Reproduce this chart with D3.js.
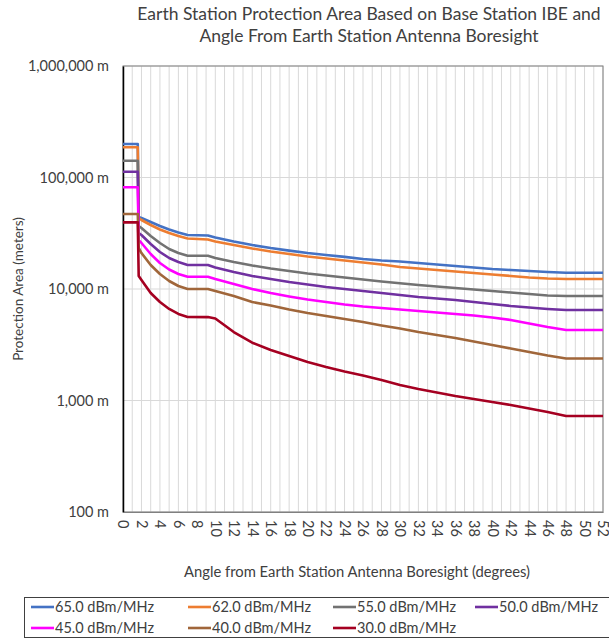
<!DOCTYPE html>
<html>
<head>
<meta charset="utf-8">
<script src="https://cdn.jsdelivr.net/npm/d3@7"></script>
<style>
  body { margin: 0; background: #fff; }
  text { font-family: Lato, "Open Sans", sans-serif; fill: #404040; }
</style>
</head>
<body>
<div id="chart"></div>
<script>
// angle from boresight (degrees)
const angles = [0, 1.6, 1.7, 2, 3, 4, 5, 6, 7, 9.2, 10, 12, 14, 16, 18, 20, 22, 24, 26, 28,
  30, 32, 34, 36, 38, 40, 42, 44, 46, 48, 50, 52];

// protection distance (meters) per IBE level
const ibe65 = [200000, 200000, 44250, 43350, 39900, 36700, 34200, 32150, 30500, 30200, 29000, 26700,
  24800, 23300, 22100, 21000, 20200, 19400, 18600, 18000, 17650, 17100, 16600, 16100, 15600, 15100,
  14800, 14500, 14200, 14000, 14000, 14000];
const ibe62 = [186600, 186600, 43350, 41590, 37500, 34200, 31790, 29870, 28380, 27800, 26670, 24820,
  23080, 21690, 20600, 19550, 18790, 18030, 17290, 16600, 15750, 15280, 14790, 14350, 13900, 13490,
  13090, 12680, 12420, 12300, 12300, 12300];
const ibe55 = [141500, 141500, 36730, 35240, 29870, 25870, 22850, 21030, 19890, 19890, 18970, 17460,
  16250, 15280, 14500, 13770, 13210, 12680, 12170, 11670, 11250, 10860, 10520, 10210, 9900, 9590,
  9300, 9020, 8740, 8650, 8650, 8650];
const ibe50 = [112700, 112700, 31790, 30500, 25340, 21470, 18970, 17460, 16420, 16420, 15590, 14200,
  13090, 12300, 11550, 10970, 10420, 10000, 9590, 9200, 8830, 8480, 8220, 7970, 7640, 7330,
  7040, 6820, 6620, 6480, 6480, 6480];
const ibe45 = [81700, 81700, 27500, 25870, 20600, 17100, 14960, 13640, 12890, 12890, 12300, 11090,
  10000, 9200, 8570, 8050, 7640, 7260, 6970, 6760, 6550, 6350, 6150, 5970, 5790, 5550,
  5270, 4910, 4560, 4290, 4290, 4290];
const ibe40 = [47100, 47100, 23330, 21030, 16420, 13640, 11800, 10640, 10000, 10000, 9590, 8650,
  7640, 7110, 6550, 6090, 5730, 5380, 5060, 4710, 4420, 4110, 3870, 3640, 3380, 3150,
  2930, 2720, 2530, 2380, 2380, 2380];
const ibe30 = [39600, 39600, 13100, 12050, 9200, 7640, 6620, 5970, 5610, 5600, 5440, 4110,
  3300, 2840, 2510, 2210, 1996, 1820, 1675, 1527, 1377, 1268, 1180, 1097, 1031, 970,
  912, 848, 789, 726, 726, 726];

const seriesNames = ["65.0 dBm/MHz", "62.0 dBm/MHz", "55.0 dBm/MHz", "50.0 dBm/MHz",
  "45.0 dBm/MHz", "40.0 dBm/MHz", "30.0 dBm/MHz"];
const seriesValues = [ibe65, ibe62, ibe55, ibe50, ibe45, ibe40, ibe30];
const colors = ["#4472c4", "#ed7d31", "#727272", "#7030a0", "#ff00ff", "#a0663a", "#a50021"];

const yTicks = [100, 1000, 10000, 100000, 1000000];
const xTicks = d3.range(0, 53, 2);

const width = 609, height = 640;
const margin = { top: 66, right: 6, bottom: 128, left: 123 };

const svg = d3.select("#chart").append("svg")
    .attr("width", width)
    .attr("height", height);

const x = d3.scaleLinear()
    .domain([0, 52])
    .range([margin.left, width - margin.right]);

const y = d3.scaleLog()
    .domain([100, 1000000])
    .range([height - margin.bottom, margin.top]);

// title
svg.append("text")
    .attr("x", 369).attr("y", 20)
    .attr("text-anchor", "middle")
    .style("font-size", "17.5px")
    .text("Earth Station Protection Area Based on Base Station IBE and");
svg.append("text")
    .attr("x", 369).attr("y", 42)
    .attr("text-anchor", "middle")
    .style("font-size", "17.5px")
    .text("Angle From Earth Station Antenna Boresight");

// gridlines
svg.append("g")
    .selectAll("line")
    .data(d3.range(0, 53))
    .join("line")
    .attr("x1", d => x(d)).attr("x2", d => x(d))
    .attr("y1", y(1000000)).attr("y2", y(100))
    .attr("stroke", "#d9d9d9")
    .attr("stroke-width", 1);

svg.append("g")
    .selectAll("line")
    .data(yTicks)
    .join("line")
    .attr("x1", x(0)).attr("x2", x(52))
    .attr("y1", d => y(d)).attr("y2", d => y(d))
    .attr("stroke", "#d9d9d9")
    .attr("stroke-width", 1);

// plot border
svg.append("rect")
    .attr("x", x(0)).attr("y", y(1000000))
    .attr("width", x(52) - x(0))
    .attr("height", y(100) - y(1000000))
    .attr("fill", "none")
    .attr("stroke", "#808080")
    .attr("stroke-width", 1);

// y axis
const yAxis = svg.append("g")
    .attr("transform", `translate(${x(0)},0)`)
    .call(d3.axisLeft(y).tickValues(yTicks).tickSize(0).tickPadding(14)
        .tickFormat(d => d3.format(",")(d) + " m"));
yAxis.select(".domain").attr("stroke", "#000").attr("stroke-width", 1.5);
yAxis.selectAll("text")
    .style("font-family", "Lato, sans-serif")
    .style("font-size", "14.5px")
    .attr("fill", "#404040");

// x axis
const xAxis = svg.append("g")
    .attr("transform", `translate(0,${y(100)})`)
    .call(d3.axisBottom(x).tickValues(xTicks).tickSize(0).tickFormat(d3.format("d")));
xAxis.select(".domain").attr("stroke", "#808080");
xAxis.selectAll("text")
    .style("font-family", "Lato, sans-serif")
    .style("font-size", "14.5px")
    .attr("fill", "#404040")
    .attr("text-anchor", "start")
    .attr("dy", "0.35em")
    .attr("transform", "translate(0,8) rotate(90)")
    .attr("x", 0).attr("y", 0);

// axis titles
svg.append("text")
    .attr("transform", `translate(18,${(y(100) + y(1000000)) / 2}) rotate(-90)`)
    .attr("text-anchor", "middle")
    .attr("dy", "0.35em")
    .style("font-size", "13.5px")
    .text("Protection Area (meters)");

svg.append("text")
    .attr("x", 357).attr("y", 577)
    .attr("text-anchor", "middle")
    .style("font-size", "14.8px")
    .text("Angle from Earth Station Antenna Boresight (degrees)");

// lines
const line = d3.line()
    .x((d, i) => x(angles[i]))
    .y(d => y(d));

svg.append("g")
    .selectAll("path")
    .data(seriesValues)
    .join("path")
    .attr("d", d => line(d))
    .attr("fill", "none")
    .attr("stroke", (d, i) => colors[i])
    .attr("stroke-width", 2.6)
    .attr("stroke-linejoin", "round");

// legend
svg.append("rect")
    .attr("x", 24.5).attr("y", 597.5)
    .attr("width", 590).attr("height", 40)
    .attr("fill", "#fff")
    .attr("stroke", "#404040")
    .attr("stroke-width", 1);

const legendX = [31, 188, 333, 475];
const legend = svg.append("g")
    .selectAll("g")
    .data(seriesNames)
    .join("g")
    .attr("transform", (d, i) => `translate(${legendX[i % 4]},${i < 4 ? 607 : 628})`);
legend.append("line")
    .attr("x1", 0).attr("x2", 23)
    .attr("stroke", (d, i) => colors[i])
    .attr("stroke-width", 2.6);
legend.append("text")
    .attr("x", 24).attr("dy", "0.35em")
    .style("font-size", "14.5px")
    .text(d => d);
</script>
</body>
</html>
